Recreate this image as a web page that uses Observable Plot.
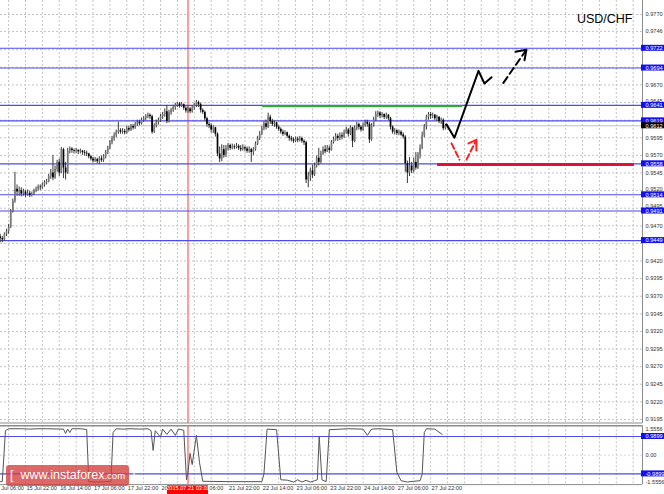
<!DOCTYPE html>
<html><head><meta charset="utf-8">
<script src="https://cdn.jsdelivr.net/npm/d3@7"></script>
<script src="https://cdn.jsdelivr.net/npm/@observablehq/plot@0.6"></script>
<style>
body{margin:0;background:#fff;}
#wrap{position:relative;width:664px;height:494px;overflow:hidden;background:#fff;font-family:"Liberation Sans",Arial,sans-serif}
#main{position:absolute;left:0;top:0}
#ind{position:absolute;left:0;top:424px}
#wm{position:absolute;left:6px;top:465px;width:123px;height:21px;background:rgba(212,62,62,0.78);border-radius:3px;color:#fff;font-size:12.5px;line-height:21px;white-space:nowrap;box-sizing:border-box;padding-left:4px}
#wm small{font-size:9.5px}
</style></head><body>
<div id="wrap"><div id="main"></div><div id="ind"></div><div id="wm">[ &nbsp;www.instaforex<small>.com</small> &nbsp;]</div></div>
<script>
// ---- candle data (price x 10000), one H1 bar per index, bar 0 = 15 Jul 10:00 ----
const closes = [9452,9450,9458,9462,9468,9490,9505,9522,9518,9520,
9515,9518,9514,9516,9513,9515,9520,9522,9525,9524,
9528,9531,9533,9540,9545,9538,9550,9560,9545,9578,
9552,9545,9576,9579,9577,9576,9577,9575,9576,9574,
9573,9572,9568,9565,9562,9564,9561,9565,9563,9568,
9574,9580,9588,9594,9598,9603,9605,9603,9604,9602,
9608,9606,9611,9609,9614,9617,9615,9620,9622,9625,
9627,9625,9603,9612,9617,9620,9625,9628,9632,9618,
9630,9634,9638,9641,9643,9640,9642,9637,9633,9636,
9632,9637,9641,9645,9642,9634,9631,9622,9614,9612,
9606,9609,9600,9572,9565,9578,9570,9580,9584,9580,
9582,9581,9583,9580,9578,9581,9579,9576,9578,9574,
9578,9586,9594,9600,9608,9615,9610,9624,9618,9614,
9616,9610,9607,9603,9600,9602,9597,9594,9592,9590,
9593,9591,9594,9590,9588,9535,9540,9548,9542,9555,
9566,9560,9572,9578,9575,9580,9577,9588,9592,9597,
9594,9598,9596,9602,9606,9600,9609,9590,9608,9614,
9610,9606,9612,9617,9614,9592,9612,9620,9628,9630,
9626,9628,9624,9627,9622,9610,9603,9605,9601,9603,
9599,9596,9558,9545,9555,9548,9560,9552,9570,9580,
9598,9610,9624,9628,9626,9627,9622,9624,9618,9620,
9608,9612];
const highs = [9458,9455,9460,9465,9472,9493,9508,9546,9528,9525,
9524,9522,9520,9521,9519,9518,9522,9525,9528,9528,
9531,9534,9536,9543,9550,9570,9555,9563,9565,9581,
9580,9560,9580,9582,9581,9579,9580,9578,9579,9577,
9577,9576,9573,9570,9567,9567,9566,9568,9569,9571,
9577,9583,9591,9597,9602,9606,9617,9608,9608,9607,
9611,9611,9614,9614,9617,9620,9620,9623,9625,9628,
9630,9629,9627,9615,9620,9623,9628,9631,9636,9641,
9634,9637,9641,9644,9645,9645,9645,9643,9639,9639,
9638,9640,9644,9648,9647,9644,9636,9633,9624,9617,
9615,9612,9610,9602,9582,9585,9584,9584,9587,9586,
9586,9585,9587,9585,9584,9585,9583,9582,9582,9580,
9581,9589,9597,9604,9611,9618,9620,9630,9627,9621,
9619,9617,9612,9609,9606,9605,9603,9599,9597,9595,
9596,9596,9597,9596,9592,9590,9546,9552,9556,9559,
9569,9580,9576,9582,9584,9584,9583,9591,9596,9601,
9600,9602,9602,9606,9610,9608,9612,9610,9612,9617,
9616,9612,9616,9620,9620,9617,9615,9624,9632,9633,
9632,9631,9629,9630,9628,9624,9612,9608,9606,9606,
9605,9602,9598,9562,9567,9560,9566,9574,9574,9585,
9603,9614,9627,9631,9631,9630,9628,9627,9625,9623,
9622,9614];
const lows = [9446,9446,9448,9455,9458,9466,9488,9502,9512,9512,
9511,9512,9510,9512,9510,9511,9513,9517,9519,9520,
9522,9525,9528,9531,9536,9534,9536,9546,9540,9544,
9537,9535,9543,9572,9573,9572,9573,9571,9572,9570,
9569,9568,9565,9562,9559,9560,9558,9557,9560,9560,
9565,9571,9578,9585,9590,9595,9600,9600,9600,9599,
9600,9603,9604,9606,9607,9611,9612,9613,9617,9619,
9622,9621,9600,9601,9609,9613,9617,9621,9624,9615,
9616,9627,9631,9634,9638,9637,9638,9634,9630,9630,
9629,9630,9634,9638,9638,9630,9628,9618,9610,9608,
9602,9601,9596,9568,9560,9561,9566,9567,9576,9577,
9578,9578,9579,9577,9575,9576,9575,9573,9573,9560,
9570,9576,9584,9591,9598,9605,9606,9608,9614,9611,
9610,9607,9604,9600,9597,9598,9594,9590,9589,9587,
9588,9588,9589,9587,9584,9530,9524,9533,9537,9540,
9552,9555,9558,9570,9572,9574,9573,9576,9586,9590,
9590,9591,9592,9594,9600,9596,9598,9581,9588,9605,
9606,9603,9604,9610,9610,9587,9590,9610,9618,9624,
9622,9623,9621,9621,9619,9606,9600,9599,9598,9598,
9597,9593,9546,9530,9540,9544,9545,9549,9550,9565,
9578,9595,9606,9620,9621,9622,9619,9618,9615,9614,
9605,9606];
const firstOpen = 9454;

// ---- indicator (vertices) ----
const indBars = [0,1,2.5,4,10,14,18,22,26,30,31,32,33,34,38,41,42,46,50,52.5,53.5,55,58,62,66,70,71.5,72.5,73.5,76,77,79,81,83,84.5,87,88.3,89,90,91,93,94.5,96,110,124,125,126.5,131,133,136,139,141,143,145,147,149,150.3,151.2,152.5,154.5,156,165,172,174,176,180,186,188,190,193,196,199,200,201,202,206,209.5];
const indVals = [-1.40,-1.40,1.30,1.40,1.40,1.38,1.40,1.40,1.39,1.38,1.15,1.38,1.20,1.40,1.40,1.36,-1.40,-1.42,-1.40,-1.38,1.20,1.40,1.38,1.40,1.38,1.40,1.30,0.25,1.30,0.95,1.38,1.10,1.38,1.05,1.38,1.32,-1.30,-0.90,0.10,-0.50,1.05,-0.40,-1.38,-1.40,-1.40,-1.00,1.38,1.35,-1.30,-1.32,-1.42,-1.30,-1.42,-1.33,-1.42,-1.35,-1.30,1.00,-1.30,-1.40,1.35,1.40,1.38,1.05,1.38,1.40,1.35,-0.90,-1.35,-1.42,-1.38,-1.35,-1.00,1.20,1.40,1.38,1.10];
const indLevels = [0.9899, -0.9899];

// ---- axes / levels ----
const gridPrices = [0.9770,0.9746,0.9720,0.9695,0.9670,0.9645,0.9620,0.9595,0.9570,0.9545,0.9520,0.9495,0.9470,0.9445,0.9420,0.9395,0.9370,0.9345,0.9320,0.9295,0.9270,0.9245,0.9220,0.9195];
const priceLabels = [0.9770,0.9746,0.9670,0.9645,0.9595,0.9570,0.9545,0.9520,0.9495,0.9470,0.9420,0.9395,0.9370,0.9345,0.9320,0.9295,0.9270,0.9245,0.9220,0.9195];
const blueLevels = [0.9722,0.9694,0.9641,0.9619,0.9558,0.9514,0.9491,0.9449];
const bidPrice = 0.9612;
const greenLine = [{p:0.9640, from:124.3, to:219.1}];
const redLine = [{p:0.9557, from:207.3, to:300.6}];
const markerBar = 89; // 2015.07.21 03:00
const markerLabel = "2015.07.21 03:00";
// visible parts of the time labels (others hidden by the marker box / left edge)
const timeTickBars = [-4,12,28,44,60,76,92,108,124,140,156,172,188,204];
const timeTickLabels = ["Jul 06:00","15 Jul 22:00","16 Jul 14:00","17 Jul 06:00","17 Jul 22:00","20","06:00","21 Jul 22:00","22 Jul 14:00","23 Jul 06:00","23 Jul 22:00","24 Jul 14:00","27 Jul 06:00","27 Jul 22:00"];
const title = "USD/CHF";

// ---- forecast arrows (bar index, price x 10000) ----
const blackSolid = [[211.5,9614],[215.3,9595],[226.7,9690],[229.5,9672],[232.9,9681]];
const blackDash = [[238.5,9673],[249.4,9720]];
const blackHead = [[244.2,9717],[249.4,9720],[248.5,9705]];
const redDash1 = [[213.9,9587],[217.7,9564]];
const redDash2 = [[221.0,9564],[225.7,9592]];
const redHead = [[221.9,9587],[225.7,9592],[225.7,9577]];

// ---- build ----
const X0 = 0.1517, X1 = 304.42;
const candles = closes.map((c,i)=>({i, o:(i?closes[i-1]:firstOpen)/1e4, c:c/1e4, h:highs[i]/1e4, l:lows[i]/1e4}));
const bull = candles.filter(d=>d.c>=d.o), bear = candles.filter(d=>d.c<d.o);
const pts = a => a.map(([i,p])=>({i, p:p/1e4}));
const gridBars = d3.range(4, 304, 8);
const FS = 5.6;
const timeTicks = timeTickBars.map((b,k)=>({b, t:timeTickLabels[k], dx: k===0 ? 9.5 : (timeTickLabels[k]==="06:00" ? 15 : 1)}));
// nudge grey labels that sit right next to a level box away from it
const labelShift = p => { const near = blueLevels.find(b => Math.abs(b-p) < 0.00075); return near === undefined ? 0 : (near < p ? -1.5 : 1.5); };

const main = Plot.plot({
  width:664, height:423, marginLeft:0, marginRight:22, marginTop:0, marginBottom:0,
  x:{domain:[X0,X1], axis:null},
  y:{domain:[0.91893,0.97899], axis:null},
  style:{background:"white", overflow:"visible", fontFamily:"Liberation Sans, Arial, sans-serif"},
  marks:[
    Plot.ruleY(gridPrices, {stroke:"#c4c4c4", strokeDasharray:"2,2"}),
    Plot.ruleX(gridBars, {stroke:"#c4c4c4", strokeDasharray:"2,2"}),
    Plot.ruleX([markerBar], {stroke:"#ff9c9c", strokeWidth:2}),
    Plot.ruleY([bidPrice], {stroke:"#c0c0c0"}),
    Plot.ruleY(blueLevels, {stroke:"#4b4bf0", strokeWidth:1.1}),
    Plot.ruleY(greenLine, {y:"p", x1:"from", x2:"to", stroke:"#22b222", strokeWidth:2}),
    Plot.ruleY(redLine, {y:"p", x1:"from", x2:"to", stroke:"#e0103c", strokeWidth:3}),
    Plot.ruleX(candles, {x:"i", y1:"l", y2:"h", stroke:"#3a3a3a", strokeWidth:1}),
    Plot.ruleX(bull, {x:"i", y1:"o", y2:"c", stroke:"#7a7a7a", strokeWidth:1.7}),
    Plot.ruleX(bear, {x:"i", y1:"o", y2:"c", stroke:"#000", strokeWidth:1.7}),
    Plot.line(pts(blackSolid), {x:"i", y:"p", stroke:"#000", strokeWidth:2}),
    Plot.line(pts(blackDash), {x:"i", y:"p", stroke:"#000", strokeWidth:2, strokeDasharray:"7,4"}),
    Plot.line(pts(blackHead), {x:"i", y:"p", stroke:"#000", strokeWidth:2}),
    Plot.line(pts(redDash1), {x:"i", y:"p", stroke:"#ff2020", strokeWidth:2, strokeDasharray:"6,3"}),
    Plot.line(pts(redDash2), {x:"i", y:"p", stroke:"#ff2020", strokeWidth:2, strokeDasharray:"6,3"}),
    Plot.line(pts(redHead), {x:"i", y:"p", stroke:"#ff2020", strokeWidth:2}),
    Plot.ruleX([X1], {stroke:"#8c8c8c"}),
    Plot.ruleY([0.9190], {stroke:"#8c8c8c"}),
    ...priceLabels.map(p => Plot.text([p], {y:d=>d, text:d=>d.toFixed(4), frameAnchor:"right", dx:3, dy:labelShift(p), textAnchor:"start", fontSize:FS, fill:"#333"})),
    Plot.rect(blueLevels, {y1:d=>d, y2:d=>d, x1:()=>X1, x2:()=>X1, insetTop:-3, insetBottom:-3, insetLeft:-1, insetRight:-22, fill:"#1010f0"}),
    Plot.text(blueLevels, {y:d=>d, text:d=>d.toFixed(4), frameAnchor:"right", dx:3, textAnchor:"start", fontSize:FS, fill:"#fff"}),
    Plot.rect([bidPrice], {y1:d=>d, y2:d=>d, x1:()=>X1, x2:()=>X1, insetTop:-3, insetBottom:-3, insetLeft:-1, insetRight:-22, fill:"#000"}),
    Plot.text([bidPrice], {y:d=>d, text:d=>d.toFixed(4), frameAnchor:"right", dx:3, textAnchor:"start", fontSize:FS, fill:"#fff"}),
    Plot.text([title], {frameAnchor:"top-right", dx:-10, dy:14, textAnchor:"end", fontSize:12.5, fill:"#000"})
  ]
});
document.getElementById("main").appendChild(main);

const ind = Plot.plot({
  width:664, height:70, marginLeft:0, marginRight:22, marginTop:1.3, marginBottom:9.9,
  x:{domain:[X0,X1], axis:null},
  y:{domain:[-1.5556,1.5556], axis:null},
  style:{background:"white", overflow:"visible", fontFamily:"Liberation Sans, Arial, sans-serif"},
  marks:[
    Plot.ruleX(gridBars, {stroke:"#c4c4c4", strokeDasharray:"2,2"}),
    Plot.ruleY([0], {stroke:"#d8d8d8", strokeDasharray:"2,2"}),
    Plot.ruleX([markerBar], {stroke:"#ff9c9c", strokeWidth:2}),
    Plot.ruleY(indLevels, {stroke:"#4b4bf0", strokeWidth:1.1}),
    Plot.line(indBars.map((b,k)=>({i:b, v:indVals[k]})), {x:"i", y:"v", stroke:"#555", strokeWidth:1}),
    Plot.ruleY([1.5556], {stroke:"#8c8c8c", strokeWidth:1.5}),
    Plot.ruleY([-1.5556], {stroke:"#8c8c8c"}),
    Plot.ruleX([X1], {stroke:"#8c8c8c"}),
    Plot.text([1.5556], {y:d=>d, text:d=>d.toFixed(4), frameAnchor:"right", dx:3, dy:3, textAnchor:"start", fontSize:FS, fill:"#333"}),
    Plot.text([0], {y:d=>d, text:d=>d.toFixed(2), frameAnchor:"right", dx:3, textAnchor:"start", fontSize:FS, fill:"#333"}),
    Plot.text([-1.5556], {y:d=>d, text:d=>d.toFixed(4), frameAnchor:"right", dx:3, dy:-2, textAnchor:"start", fontSize:FS, fill:"#333"}),
    Plot.rect(indLevels, {y1:d=>d, y2:d=>d, x1:()=>X1, x2:()=>X1, insetTop:-3, insetBottom:-3, insetLeft:-1, insetRight:-22, fill:"#1010f0"}),
    Plot.text(indLevels, {y:d=>d, text:d=>d.toFixed(4), frameAnchor:"right", dx:3, textAnchor:"start", fontSize:FS, fill:"#fff"}),
    ...timeTicks.map(t => Plot.text([t], {x:"b", text:"t", frameAnchor:"bottom", dy:5.5, dx:t.dx, textAnchor:"start", fontSize:FS, fill:"#333"})),
    Plot.rect([markerBar], {x1:d=>d, x2:d=>d, insetLeft:-20.5, insetRight:-20.5, insetTop:60, insetBottom:-10, fill:"#ff0000"}),
    Plot.text([markerBar], {x:d=>d, text:()=>markerLabel, frameAnchor:"bottom", dy:5.5, fontSize:FS, fill:"#fff"})
  ]
});
document.getElementById("ind").appendChild(ind);
</script>
</body></html>
